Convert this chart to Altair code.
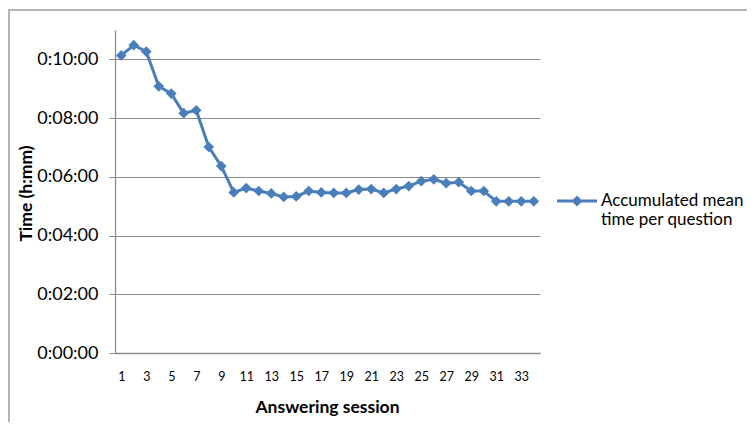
import altair as alt
import pandas as pd

sessions = list(range(1, 35))
# accumulated mean time per question, in seconds
mean_seconds = [608, 629, 616, 545, 530, 490, 496, 421, 382, 328,
                337, 331, 326, 319, 320, 331, 328, 327, 327, 334,
                335, 327, 335, 341, 351, 355, 347, 349, 331, 331,
                310, 310, 310, 310]
series_name = "Accumulated mean time per question"
y_ticks = [0, 120, 240, 360, 480, 600]
x_labels = [1, 3, 5, 7, 9, 11, 13, 15, 17, 19, 21, 23, 25, 27, 29, 31, 33]

df = pd.DataFrame({"session": sessions, "seconds": mean_seconds,
                   "series": [series_name] * len(sessions)})

BLUE = "#4A7EBB"
GRAY = "#8C8C8C"
FONT = "Lato"

x_enc = alt.X("session:O", scale=alt.Scale(padding=0.5),
              axis=alt.Axis(values=x_labels, labelAngle=0, ticks=False, tickSize=0,
                            labelPadding=17, labelFontSize=12.5, labelFont=FONT,
                            labelColor="#000", grid=False, domainColor=GRAY,
                            domainWidth=1.3, title="Answering session",
                            titleFont=FONT, titleFontSize=17.5, titleFontWeight="bold",
                            titleColor="#000", titleX=212, titleY=54,
                            titleBaseline="middle", titleAlign="center"))
y_enc = alt.Y("seconds:Q", scale=alt.Scale(domain=[0, 660], nice=False, zero=True),
              axis=alt.Axis(values=y_ticks,
                            labelExpr="'0:' + (datum.value < 600 ? '0' : '') + floor(datum.value/60) + ':00'",
                            labelFont=FONT, labelFontSize=18, labelColor="#000",
                            tickSize=6, tickColor=GRAY, labelPadding=11,
                            domainColor=GRAY, domainWidth=1.3,
                            gridColor=GRAY, gridWidth=1.2,
                            title="Time (h:mm)", titleFont=FONT, titleFontSize=17.5,
                            titleFontWeight="bold", titleColor="#000",
                            titleAngle=270, titleX=-89, titleY=163,
                            titleAlign="center", titleBaseline="middle"))

border = alt.Chart(pd.DataFrame({"b": [0]})).mark_rect(
    filled=False, stroke="#9A9A9A", strokeWidth=1.5
).encode(x=alt.value(-106), x2=alt.value(800), y=alt.value(-20), y2=alt.value(500))

line = alt.Chart(df).mark_line(color=BLUE, strokeWidth=3).encode(x=x_enc, y=y_enc)

sym_path = ("M-1,-0.075L1,-0.075L1,0.075L-1,0.075Z "
            "M0,-0.28L0.28,0L0,0.28L-0.28,0Z")

points = alt.Chart(df).mark_point(shape="diamond", filled=True, size=115, opacity=1).encode(
    x=x_enc, y=y_enc,
    color=alt.Color("series:N", scale=alt.Scale(range=[BLUE]),
                    legend=alt.Legend(
                        title=None, orient="none", legendX=442, legendY=151,
                        symbolType=sym_path, symbolSize=1600, symbolStrokeWidth=0,
                        symbolFillColor=BLUE, symbolOpacity=1,
                        labelFont=FONT, labelFontSize=17, labelColor="#000",
                        labelLimit=400, labelOffset=4, padding=0,
                        labelExpr="datum.label == 'Accumulated mean time per question' ? ['Accumulated mean', 'time per question'] : datum.label"))
)

chart = alt.layer(border, line, points).properties(
    width=425, height=323,
    autosize=alt.AutoSizeParams(type="none"),
    padding={"left": 107, "top": 22, "right": 207, "bottom": 69},
    background="white",
).configure_view(stroke="transparent")

chart.save("out.html", embed_options={"renderer": "svg", "actions": False})
